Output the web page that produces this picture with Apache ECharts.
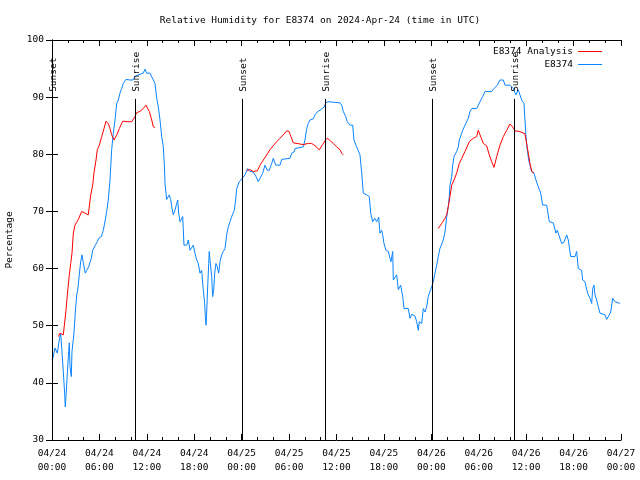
<!DOCTYPE html>
<html>
<head>
<meta charset="utf-8">
<script src="https://cdn.jsdelivr.net/npm/echarts@6/dist/echarts.min.js"></script>
<style>
html,body{margin:0;padding:0;background:#fff;}
#chart{width:640px;height:480px;}
</style>
</head>
<body>
<div id="chart"></div>
<script>
// Hours since 2024-04-24 00:00 UTC
var xTickLabels = ['04/24\n00:00','04/24\n06:00','04/24\n12:00','04/24\n18:00','04/25\n00:00','04/25\n06:00','04/25\n12:00','04/25\n18:00','04/26\n00:00','04/26\n06:00','04/26\n12:00','04/26\n18:00','04/27\n00:00'];

var obsHours = [0.00,0.13,0.38,0.67,0.80,0.92,1.10,1.35,1.43,1.61,1.68,1.77,1.94,2.11,2.19,2.28,2.44,2.53,2.70,2.78,2.95,3.13,3.29,3.45,3.63,3.80,3.96,4.21,4.39,4.64,4.81,4.97,5.15,5.48,5.73,5.91,6.24,6.49,6.74,6.92,7.12,7.34,7.43,7.55,7.76,7.97,8.19,8.39,8.60,8.82,9.02,9.36,9.87,10.25,10.50,10.92,11.13,11.55,11.77,11.98,12.40,12.62,12.82,13.03,13.25,13.45,13.67,13.88,14.08,14.21,14.30,14.42,14.51,14.72,14.84,15.02,15.15,15.35,15.56,15.78,15.91,16.03,16.20,16.41,16.54,16.61,16.70,17.04,17.25,17.46,17.68,17.88,18.09,18.31,18.51,18.73,18.94,19.14,19.32,19.40,19.49,19.57,19.70,19.83,19.90,19.99,20.08,20.21,20.33,20.46,20.59,20.75,20.92,21.09,21.26,21.47,21.68,21.89,22.11,22.31,22.52,22.74,22.94,23.07,23.24,23.37,23.70,24.08,24.42,24.76,25.05,25.47,25.81,26.10,26.32,26.66,26.95,27.24,27.50,27.80,28.00,28.31,28.85,29.07,30.12,30.33,30.62,30.75,31.80,32.01,32.23,32.43,32.65,33.06,33.28,33.62,33.91,34.13,34.46,34.63,34.92,36.44,36.66,36.86,37.16,37.37,37.71,38.05,38.21,38.55,38.97,39.19,39.39,39.82,40.15,40.33,40.58,40.83,41.09,41.34,41.50,41.72,41.84,42.01,42.26,42.55,42.77,42.89,43.11,43.19,43.40,43.62,43.82,44.12,44.38,44.54,45.08,45.30,45.52,45.72,45.93,46.15,46.35,46.48,46.78,46.98,47.19,47.41,47.61,47.83,48.04,48.25,48.46,48.68,48.88,49.09,49.31,49.51,49.73,49.94,50.14,50.27,50.36,50.58,50.70,50.87,51.21,51.41,51.54,51.75,51.97,52.26,52.68,52.89,53.11,53.74,54.16,54.50,54.79,55.64,55.93,56.18,56.35,56.69,57.11,57.32,57.95,58.37,58.71,59.00,59.22,59.43,59.72,59.85,59.98,60.14,60.32,60.48,60.70,60.99,61.24,61.53,61.84,62.09,62.60,62.93,63.43,63.77,63.94,64.19,64.49,64.78,65.13,65.33,65.63,66.18,66.39,66.60,67.02,67.15,67.44,67.66,67.86,68.08,68.29,68.42,68.58,68.71,68.92,69.13,69.34,69.98,70.19,70.52,70.70,70.95,71.11,71.24,71.87];
var obsValues = [44.0,44.4,46.1,45.2,44.9,47.5,48.7,48.4,42.0,37.9,35.8,37.6,41.7,45.5,47.0,42.8,41.1,45.5,45.5,48.7,52.4,55.4,56.6,58.9,61.2,62.4,61.0,59.2,59.7,60.3,60.3,61.8,63.2,64.1,64.7,65.3,65.6,66.7,68.5,70.0,72.0,75.5,77.8,80.8,83.7,86.0,88.9,89.5,90.7,91.5,92.4,93.1,93.0,93.0,93.6,93.9,94.2,94.2,94.9,94.2,94.2,93.9,93.0,92.4,89.8,88.3,86.0,83.1,81.3,78.4,74.9,73.2,72.1,72.1,72.9,72.1,70.8,69.4,70.2,71.4,72.0,69.7,68.2,68.5,69.1,67.0,64.1,64.1,65.0,63.2,63.5,64.1,62.7,61.5,60.9,59.2,59.7,56.3,53.9,51.6,50.1,52.2,56.8,60.9,63.0,61.5,61.8,58.6,55.1,56.3,59.2,60.9,60.3,59.2,61.2,62.4,63.0,63.5,65.9,67.3,68.2,69.1,69.4,70.2,72.0,74.0,75.2,75.8,76.4,77.5,77.0,76.9,76.1,75.2,75.8,76.7,78.1,77.2,77.2,78.4,79.3,78.1,78.1,79.1,79.3,80.2,80.4,81.0,81.3,82.5,84.5,85.4,86.0,86.2,86.9,87.5,87.7,88.0,88.3,89.0,89.2,89.0,88.6,87.5,86.6,85.7,85.1,85.1,82.5,81.3,79.9,76.7,73.2,72.9,72.6,69.7,68.2,68.8,68.2,69.0,66.2,66.7,65.9,64.4,63.2,63.0,61.8,61.2,63.0,58.0,58.3,58.9,56.3,57.1,55.1,53.0,53.0,51.3,52.0,52.0,51.7,50.7,49.2,50.7,50.4,53.0,52.4,53.3,55.1,56.0,56.8,57.7,59.2,60.6,62.1,63.5,63.5,65.0,66.4,69.0,70.8,72.6,74.6,76.1,78.1,79.6,80.5,81.3,82.5,82.5,84.2,85.1,86.3,87.5,88.0,88.0,89.2,90.1,91.0,91.0,91.5,91.2,92.1,93.0,93.0,92.1,92.1,91.5,90.4,91.3,91.3,89.5,88.9,86.0,83.1,80.8,79.0,78.1,77.0,76.7,75.5,74.3,73.2,71.1,71.1,68.2,68.0,66.2,66.7,67.0,64.4,64.6,65.9,65.0,62.1,62.1,63.0,60.0,59.7,58.0,57.7,56.3,55.4,54.8,53.9,56.5,57.1,55.4,54.5,53.3,52.2,51.9,51.1,51.9,52.4,54.8,54.5,54.2,53.9];

// null = gap in analysis
var anaHours = [0.80,1.01,1.43,1.64,1.77,1.94,2.19,2.37,2.53,2.70,2.91,3.33,3.76,3.96,4.59,4.90,5.15,5.31,5.57,5.73,5.99,6.29,6.58,6.83,7.12,7.34,7.55,7.85,8.19,8.52,8.95,9.49,10.08,10.50,10.72,11.13,11.55,11.89,12.06,12.31,12.62,12.82,13.03,18.0,24.64,25.05,25.47,25.98,26.32,26.74,27.17,27.58,28.00,28.43,28.85,29.27,29.70,29.99,30.24,30.53,30.75,31.80,32.43,32.86,33.28,33.82,34.25,34.54,34.83,35.27,35.59,36.02,36.44,36.66,36.86,42.0,48.88,49.31,49.73,49.94,50.14,50.36,50.58,50.87,51.21,51.54,51.85,52.26,52.80,53.31,53.74,53.94,54.16,54.58,55.00,55.33,55.64,55.93,56.27,56.69,57.11,57.54,57.95,58.29,58.58,59.13,59.85,59.98,60.27,60.48,60.70,60.99];
var anaValues = [48.1,48.7,48.4,48.2,52.7,55.4,58.9,60.9,62.7,66.2,67.6,68.6,70.0,70.0,69.4,72.9,74.6,76.7,79.0,80.8,81.6,83.1,84.5,85.8,85.4,84.5,83.4,82.5,83.4,84.5,85.8,85.7,85.7,86.6,87.3,87.5,88.0,88.6,88.5,87.5,86.0,84.8,84.7,null,77.2,77.3,77.0,77.1,78.1,79.0,79.9,80.8,81.5,82.2,82.8,83.4,84.1,84.0,83.1,82.0,81.9,81.7,81.9,81.9,81.5,80.8,81.7,82.4,82.8,82.3,81.9,81.3,80.8,80.2,79.9,null,67.0,67.9,68.8,69.4,70.8,72.6,74.6,75.5,76.7,78.4,79.3,80.5,82.2,82.8,83.1,84.2,83.4,81.9,81.5,79.9,78.7,77.7,79.6,81.6,83.1,84.2,85.3,84.8,84.1,84.0,83.6,82.5,80.2,78.4,77.0,76.7];

var sunHours = [0.0, 10.54, 24.07, 34.58, 48.12, 58.50];
var sunLabels = ['Sunset','Sunrise','Sunset','Sunrise','Sunset','Sunrise'];

var FONT = 'DejaVu Sans Mono';
function zip(a, b) { return a.map(function (x, i) { return [x, b[i] === null ? '-' : b[i]]; }); }

var chart = echarts.init(document.getElementById('chart'), null, {renderer: 'canvas'});
var axisCommon = {
  axisLine: {show: true, lineStyle: {color: '#000', width: 1}},
  splitLine: {show: false}
};
var RED = '#ff0000', BLUE = '#0a84ff';
chart.setOption({
  animation: false,
  backgroundColor: '#fff',
  title: {
    text: 'Relative Humidity for E8374 on 2024-Apr-24 (time in UTC)',
    left: 'center', top: 11,
    textStyle: {fontFamily: FONT, fontSize: 9.5, fontWeight: 'normal', color: '#000'}
  },
  legend: {
    orient: 'vertical', right: 33, top: 41, align: 'right',
    itemWidth: 24, itemHeight: 1, itemGap: 2,
    textStyle: {fontFamily: FONT, fontSize: 9.5, color: '#000', lineHeight: 11},
    data: [
      {name: 'E8374 Analysis', icon: 'rect', itemStyle: {color: RED}},
      {name: 'E8374', icon: 'rect', itemStyle: {color: BLUE}}
    ]
  },
  grid: {left: 52, right: 19, top: 40, bottom: 40, containLabel: false, outerBoundsMode: 'none'},
  xAxis: [
    Object.assign({
      type: 'value', min: 0, max: 72, interval: 6,
      axisTick: {inside: true, length: 6, lineStyle: {color: '#000'}},
      minorTick: {show: true, splitNumber: 3, length: 3, lineStyle: {color: '#000'}},
      axisLabel: {
        margin: 7, color: '#000', fontFamily: FONT, fontSize: 9.5, lineHeight: 14,
        formatter: function (v) { return xTickLabels[Math.round(v / 6)]; }
      }
    }, axisCommon),
    Object.assign({
      type: 'value', min: 0, max: 72, interval: 6, position: 'top',
      axisTick: {inside: true, length: 6, lineStyle: {color: '#000'}},
      minorTick: {show: true, splitNumber: 3, length: 3, lineStyle: {color: '#000'}},
      axisLabel: {show: false}
    }, axisCommon)
  ],
  yAxis: [
    Object.assign({
      type: 'value', min: 30, max: 100, interval: 10,
      axisTick: {inside: true, length: 6, lineStyle: {color: '#000'}},
      axisLabel: {margin: 8, color: '#000', fontFamily: FONT, fontSize: 9.5},
      name: 'Percentage', nameLocation: 'middle', nameGap: 37, nameRotate: 90,
      nameTextStyle: {fontFamily: FONT, fontSize: 9.5, color: '#000'}
    }, axisCommon),
    Object.assign({
      type: 'value', min: 30, max: 100, interval: 10, position: 'right',
      axisTick: {inside: true, length: 6, lineStyle: {color: '#000'}},
      axisLabel: {show: false}
    }, axisCommon)
  ],
  series: [
    {
      name: 'E8374 Analysis', type: 'line', data: zip(anaHours, anaValues),
      showSymbol: false, symbol: 'none', connectNulls: false,
      lineStyle: {color: RED, width: 1}, itemStyle: {color: RED}, z: 3
    },
    {
      name: 'E8374', type: 'line', data: zip(obsHours, obsValues),
      showSymbol: false, symbol: 'none',
      lineStyle: {color: BLUE, width: 1}, itemStyle: {color: BLUE}, z: 2
    },
    {
      name: 'sun', type: 'custom', clip: false, z: 4,
      data: sunHours.map(function (h, i) { return [h, i]; }),
      encode: {x: 0},
      renderItem: function (params, api) {
        var t = api.value(0);
        var top = api.coord([t, 89.7]);
        var bot = api.coord([t, 30]);
        var xx = Math.round(top[0]) + 0.5;
        return {
          type: 'group',
          children: [
            {type: 'line', shape: {x1: xx, y1: top[1], x2: xx, y2: bot[1]},
             style: {stroke: '#000', lineWidth: 1}},
            {type: 'text', x: xx + 1, y: top[1] - 7, rotation: Math.PI / 2,
             style: {text: sunLabels[params.dataIndex], fontFamily: FONT, fontSize: 9.5, fill: '#000',
                     align: 'left', verticalAlign: 'middle'}}
          ]
        };
      }
    }
  ]
});
</script>
</body>
</html>
